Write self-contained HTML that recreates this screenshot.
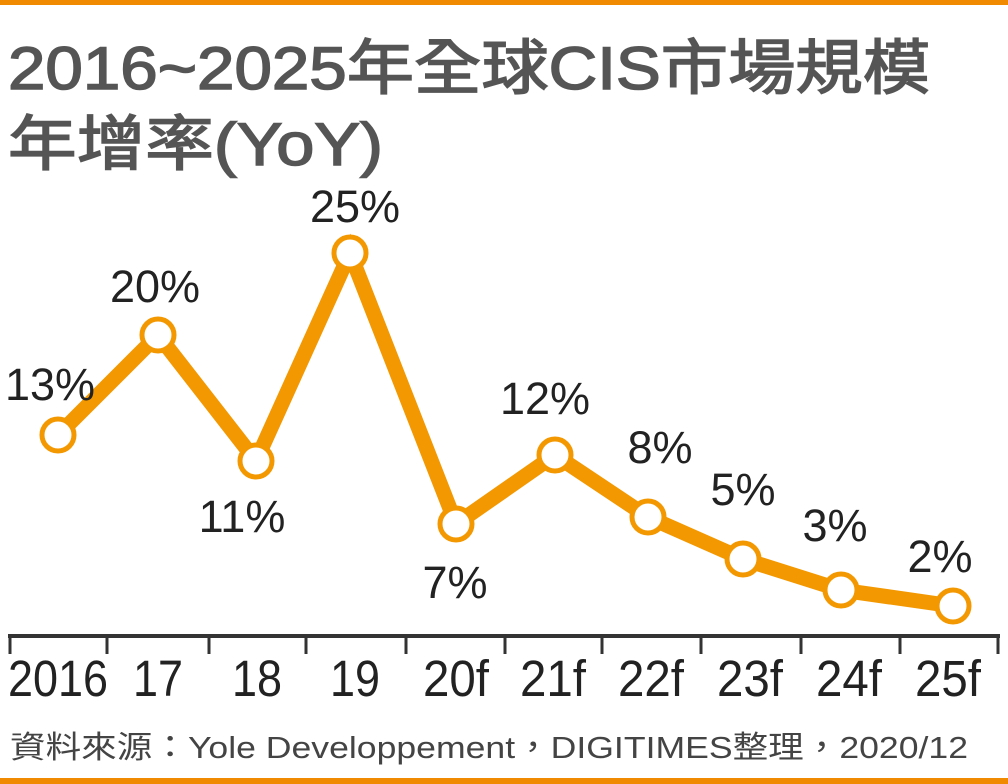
<!DOCTYPE html>
<html><head><meta charset="utf-8"><style>
html,body{margin:0;padding:0;background:#fff;}
svg{display:block}
</style></head><body>
<svg width="1008" height="784" viewBox="0 0 1008 784" xmlns="http://www.w3.org/2000/svg">
<rect x="0" y="0" width="1008" height="5" fill="#f08a00"/>
<rect x="0" y="778" width="1008" height="6" fill="#f08a00"/>
<g font-family="Liberation Sans, Noto Sans CJK TC, sans-serif" fill="#555" stroke="#555" stroke-width="1.5" font-size="60">
<text x="8" y="89" textLength="922" lengthAdjust="spacingAndGlyphs">2016~2025年全球CIS市場規模</text>
<text x="8" y="165" textLength="375" lengthAdjust="spacingAndGlyphs">年增率(YoY)</text>
</g>
<polyline points="58,435 158,335 256,461 350,253 456,524 555,455 648,517 743,559 841,590 953,606" fill="none" stroke="#f39800" stroke-width="15" stroke-linejoin="miter"/>
<g fill="#fff" stroke="#f39800" stroke-width="5">
<circle cx="58" cy="435" r="16"/><circle cx="158" cy="335" r="16"/><circle cx="256" cy="461" r="16"/><circle cx="350" cy="253" r="16"/><circle cx="456" cy="524" r="16"/><circle cx="555" cy="455" r="16"/><circle cx="648" cy="517" r="16"/><circle cx="743" cy="559" r="16"/><circle cx="841" cy="590" r="16"/><circle cx="953" cy="606" r="16"/>
</g>
<g font-family="Liberation Sans, sans-serif" fill="#222" font-size="45" text-anchor="middle">
<text x="50" y="400">13%</text>
<text x="155" y="302">20%</text>
<text x="242" y="532">11%</text>
<text x="355" y="222">25%</text>
<text x="455" y="598">7%</text>
<text x="545" y="414">12%</text>
<text x="660" y="463">8%</text>
<text x="743" y="505">5%</text>
<text x="835" y="541">3%</text>
<text x="940" y="572">2%</text>
</g>
<rect x="8" y="634" width="992" height="4" fill="#333"/>
<g stroke="#333" stroke-width="3">
<line x1="10" y1="636" x2="10" y2="654"/><line x1="107" y1="636" x2="107" y2="654"/><line x1="209" y1="636" x2="209" y2="654"/><line x1="306" y1="636" x2="306" y2="654"/><line x1="406" y1="636" x2="406" y2="654"/><line x1="505" y1="636" x2="505" y2="654"/><line x1="602" y1="636" x2="602" y2="654"/><line x1="701" y1="636" x2="701" y2="654"/><line x1="801" y1="636" x2="801" y2="654"/><line x1="900" y1="636" x2="900" y2="654"/><line x1="998" y1="636" x2="998" y2="654"/>
</g>
<g font-family="Liberation Sans, sans-serif" fill="#222" font-size="51" text-anchor="middle">
<text x="58" y="696" textLength="100" lengthAdjust="spacingAndGlyphs">2016</text>
<text x="158" y="696" textLength="50" lengthAdjust="spacingAndGlyphs">17</text>
<text x="257" y="696" textLength="50" lengthAdjust="spacingAndGlyphs">18</text>
<text x="355" y="696" textLength="50" lengthAdjust="spacingAndGlyphs">19</text>
<text x="456" y="696" textLength="66" lengthAdjust="spacingAndGlyphs">20f</text>
<text x="553" y="696" textLength="66" lengthAdjust="spacingAndGlyphs">21f</text>
<text x="651" y="696" textLength="66" lengthAdjust="spacingAndGlyphs">22f</text>
<text x="750" y="696" textLength="66" lengthAdjust="spacingAndGlyphs">23f</text>
<text x="849" y="696" textLength="66" lengthAdjust="spacingAndGlyphs">24f</text>
<text x="948" y="696" textLength="66" lengthAdjust="spacingAndGlyphs">25f</text>
</g>
<text x="10" y="758" font-family="Liberation Sans, Noto Sans CJK TC, sans-serif" font-size="31" fill="#444" textLength="958" lengthAdjust="spacingAndGlyphs">資料來源：Yole Developpement，DIGITIMES整理，2020/12</text>
</svg>
</body></html>
